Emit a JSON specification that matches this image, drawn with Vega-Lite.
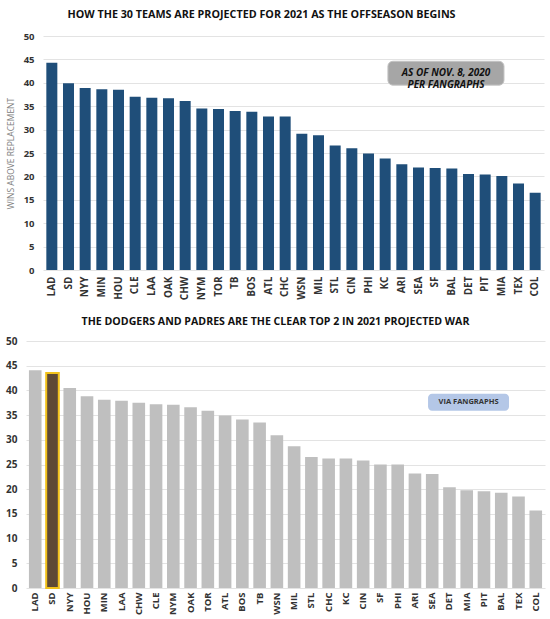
{
  "$schema": "https://vega.github.io/schema/vega-lite/v6.json",
  "background": "white",
  "padding": {"left": 5, "top": 9, "right": 5, "bottom": 0},
  "spacing": 17,
  "bounds": "full",
  "datasets": {
    "top": [
      {"team": "LAD", "war": 44.3}, {"team": "SD", "war": 39.9}, {"team": "NYY", "war": 38.9},
      {"team": "MIN", "war": 38.6}, {"team": "HOU", "war": 38.5}, {"team": "CLE", "war": 37.0},
      {"team": "LAA", "war": 36.8}, {"team": "OAK", "war": 36.7}, {"team": "CHW", "war": 36.1},
      {"team": "NYM", "war": 34.5}, {"team": "TOR", "war": 34.4}, {"team": "TB", "war": 34.0},
      {"team": "BOS", "war": 33.8}, {"team": "ATL", "war": 32.8}, {"team": "CHC", "war": 32.8},
      {"team": "WSN", "war": 29.1}, {"team": "MIL", "war": 28.8}, {"team": "STL", "war": 26.6},
      {"team": "CIN", "war": 26.0}, {"team": "PHI", "war": 24.9}, {"team": "KC", "war": 23.8},
      {"team": "ARI", "war": 22.6}, {"team": "SEA", "war": 21.9}, {"team": "SF", "war": 21.8},
      {"team": "BAL", "war": 21.7}, {"team": "DET", "war": 20.5}, {"team": "PIT", "war": 20.4},
      {"team": "MIA", "war": 20.1}, {"team": "TEX", "war": 18.5}, {"team": "COL", "war": 16.5}
    ],
    "bottom": [
      {"team": "LAD", "war": 44.1}, {"team": "SD", "war": 43.5}, {"team": "NYY", "war": 40.5},
      {"team": "HOU", "war": 38.8}, {"team": "MIN", "war": 38.1}, {"team": "LAA", "war": 37.9},
      {"team": "CHW", "war": 37.5}, {"team": "CLE", "war": 37.2}, {"team": "NYM", "war": 37.1},
      {"team": "OAK", "war": 36.6}, {"team": "TOR", "war": 35.9}, {"team": "ATL", "war": 34.9},
      {"team": "BOS", "war": 34.1}, {"team": "TB", "war": 33.5}, {"team": "WSN", "war": 30.9},
      {"team": "MIL", "war": 28.7}, {"team": "STL", "war": 26.5}, {"team": "CHC", "war": 26.2},
      {"team": "KC", "war": 26.2}, {"team": "CIN", "war": 25.8}, {"team": "SF", "war": 25.0},
      {"team": "PHI", "war": 25.0}, {"team": "ARI", "war": 23.2}, {"team": "SEA", "war": 23.1},
      {"team": "DET", "war": 20.4}, {"team": "MIA", "war": 19.8}, {"team": "PIT", "war": 19.6},
      {"team": "BAL", "war": 19.3}, {"team": "TEX", "war": 18.5}, {"team": "COL", "war": 15.7}
    ],
    "noteTop": [{"x1": 20.92, "x2": 27.63, "y1": 44.6, "y2": 39.5, "xm": 24.28, "ym": 42.05, "label": "AS OF NOV. 8, 2020|PER FANGRAPHS"}],
    "noteBottom": [{"x1": 23.24, "x2": 27.92, "y1": 39.3, "y2": 35.9, "xm": 25.58, "ym": 37.6, "label": "VIA FANGRAPHS"}]
  },
  "vconcat": [
    {
      "width": 519,
      "height": 234,
      "title": {"text": "HOW THE 30 TEAMS ARE PROJECTED FOR 2021 AS THE OFFSEASON BEGINS", "frame": "group", "anchor": "middle", "dx": -24, "offset": 10, "fontSize": 10.75},
      "resolve": {"scale": {"x": "independent"}, "axis": {"x": "independent"}},
      "layer": [
        {
          "data": {"name": "top"},
          "mark": {"type": "bar", "color": "#1f4e79"},
          "encoding": {
            "x": {"field": "team", "type": "nominal", "sort": null, "scale": {"range": [17, 518], "paddingInner": 0.34, "paddingOuter": 0.2},
                  "axis": {"title": null, "labelAngle": -90, "labelPadding": 6, "labelFontSize": 10}},
            "y": {"field": "war", "type": "quantitative", "scale": {"domain": [0, 50]},
                  "axis": {"title": "WINS ABOVE REPLACEMENT", "offset": -17, "values": [0,5,10,15,20,25,30,35,40,45,50], "labelOverlap": false, "labelFontSize": 9.5, "labelPadding": 9, "titlePadding": 8, "titleFontSize": 8.5, "titleFontWeight": "normal", "titleColor": "#808080"}}
          }
        },
        {
          "data": {"name": "noteTop"},
          "mark": {"type": "rect", "color": "#a6a6a6", "cornerRadius": 5, "stroke": "#c4c4c4", "strokeWidth": 1},
          "encoding": {
            "x": {"field": "x1", "type": "quantitative", "scale": {"domain": [0, 30]}, "axis": null},
            "x2": {"field": "x2"},
            "y": {"field": "y1", "type": "quantitative", "scale": {"domain": [0, 50]},
                  "axis": {"title": "WINS ABOVE REPLACEMENT", "offset": -17, "values": [0,5,10,15,20,25,30,35,40,45,50], "labelOverlap": false, "labelFontSize": 9.5, "labelPadding": 9, "titlePadding": 8, "titleFontSize": 8.5, "titleFontWeight": "normal", "titleColor": "#808080"}},
            "y2": {"field": "y2"}
          }
        },
        {
          "data": {"name": "noteTop"},
          "mark": {"type": "text", "lineBreak": "|", "fontStyle": "italic", "fontWeight": "bold", "fontSize": 10, "color": "#111111", "lineHeight": 12, "baseline": "middle"},
          "encoding": {
            "x": {"field": "xm", "type": "quantitative", "scale": {"domain": [0, 30]}, "axis": null},
            "y": {"field": "ym", "type": "quantitative", "scale": {"domain": [0, 50]},
                  "axis": {"title": "WINS ABOVE REPLACEMENT", "offset": -17, "values": [0,5,10,15,20,25,30,35,40,45,50], "labelOverlap": false, "labelFontSize": 9.5, "labelPadding": 9, "titlePadding": 8, "titleFontSize": 8.5, "titleFontWeight": "normal", "titleColor": "#808080"}},
            "text": {"field": "label"}
          }
        }
      ]
    },
    {
      "width": 519,
      "height": 247,
      "title": {"text": "THE DODGERS AND PADRES ARE THE CLEAR TOP 2 IN 2021 PROJECTED WAR", "frame": "group", "anchor": "middle", "dx": -10, "offset": 8, "fontSize": 10.6},
      "resolve": {"scale": {"x": "independent"}, "axis": {"x": "independent"}},
      "layer": [
        {
          "data": {"name": "bottom"},
          "mark": {"type": "bar"},
          "encoding": {
            "x": {"field": "team", "type": "nominal", "sort": null, "scale": {"paddingInner": 0.27, "paddingOuter": 0.17},
                  "axis": {"title": null, "labelAngle": -90, "labelPadding": 4, "labelFontSize": 9.5}},
            "y": {"field": "war", "type": "quantitative", "scale": {"domain": [0, 50]},
                  "axis": {"title": null, "values": [0,5,10,15,20,25,30,35,40,45,50], "labelOverlap": false, "labelPadding": 9, "labelFontSize": 10}},
            "color": {"condition": {"test": "datum.team === 'SD'", "value": "#5e4935"}, "value": "#bfbfbf"},
            "stroke": {"condition": {"test": "datum.team === 'SD'", "value": "#f2c21a"}, "value": null},
            "strokeWidth": {"condition": {"test": "datum.team === 'SD'", "value": 2}, "value": 0}
          }
        },
        {
          "data": {"name": "noteBottom"},
          "mark": {"type": "rect", "color": "#b4c7e7", "cornerRadius": 4},
          "encoding": {
            "x": {"field": "x1", "type": "quantitative", "scale": {"domain": [0, 30]}, "axis": null},
            "x2": {"field": "x2"},
            "y": {"field": "y1", "type": "quantitative", "scale": {"domain": [0, 50]},
                  "axis": {"title": null, "values": [0,5,10,15,20,25,30,35,40,45,50], "labelOverlap": false, "labelPadding": 9, "labelFontSize": 10}},
            "y2": {"field": "y2"}
          }
        },
        {
          "data": {"name": "noteBottom"},
          "mark": {"type": "text", "fontWeight": "bold", "fontSize": 7.5, "color": "#333333", "baseline": "middle"},
          "encoding": {
            "x": {"field": "xm", "type": "quantitative", "scale": {"domain": [0, 30]}, "axis": null},
            "y": {"field": "ym", "type": "quantitative", "scale": {"domain": [0, 50]},
                  "axis": {"title": null, "values": [0,5,10,15,20,25,30,35,40,45,50], "labelOverlap": false, "labelPadding": 9, "labelFontSize": 10}},
            "text": {"field": "label"}
          }
        }
      ]
    }
  ],
  "config": {
    "font": "Open Sans",
    "view": {"stroke": null},
    "title": {"fontWeight": "bold", "color": "#111111", "font": "Open Sans"},
    "axis": {"domain": false, "ticks": false, "labelFontWeight": "bold", "labelColor": "#333333", "gridColor": "#e3e3e3", "gridWidth": 1, "labelFont": "Open Sans", "titleFont": "Open Sans"},
    "axisX": {"grid": false}
  }
}
